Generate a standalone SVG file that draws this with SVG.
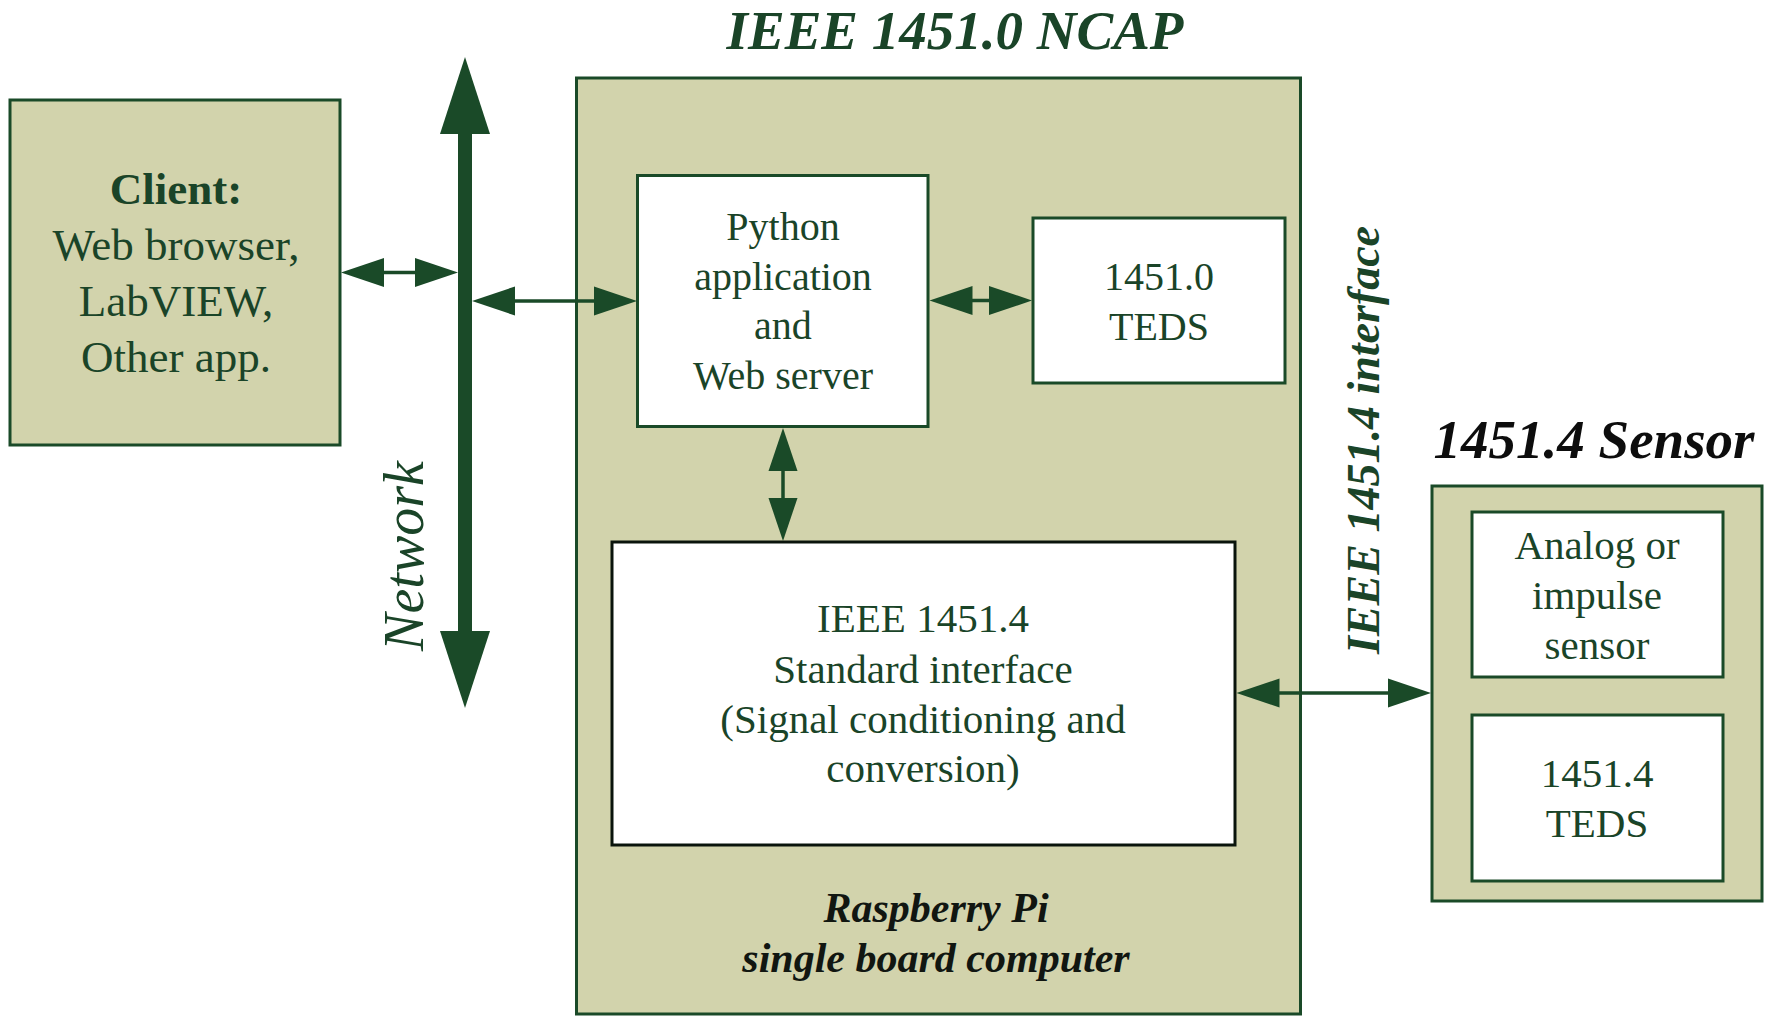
<svg xmlns="http://www.w3.org/2000/svg" xmlns:xlink="http://www.w3.org/1999/xlink" width="1772" height="1016" viewBox="0 0 1772 1016">
<style>
  .beige { fill: #d2d3ac; stroke: #1a4a28; stroke-width: 3; }
  .white { fill: #ffffff; stroke: #1a4a28; stroke-width: 3; }
  .whiteb { fill: #ffffff; stroke: #0a140c; stroke-width: 3; }
  .t { font-family: "Liberation Serif", "Times New Roman", serif; fill: #1a4428; text-anchor: middle; }
  .dark { fill: #111611; }
  .r40 { font-size: 40px; }
  .r42 { font-size: 41px; }
  .r45 { font-size: 45px; }
  .title { font-family: "Liberation Serif", "Times New Roman", serif; font-weight: bold; font-style: italic; font-size: 55px; text-anchor: middle; }
  .line { stroke: #1a4a28; stroke-width: 3.5; fill: none; }
  .head { fill: #1a4a28; }
</style>
<defs>
  <path id="ah" class="head" d="M0,0 L-43,-14.5 L-43,14.5 Z"/>
  <path id="bh" class="head" d="M0,0 L-77,-25 L-77,25 Z"/>
</defs>

<g id="title-ncap">
  <text class="title" x="955" y="49" font-size="54" fill="#1a4428">IEEE 1451.0 NCAP</text>
</g>

<g id="client">
  <rect class="beige" x="10" y="100" width="330" height="345"/>
  <text class="t r45" x="176" y="204" font-weight="bold">Client:</text>
  <text class="t r45" x="176" y="260">Web browser,</text>
  <text class="t r45" x="176" y="316">LabVIEW,</text>
  <text class="t r45" x="176" y="372">Other app.</text>
</g>

<g id="network-label">
  <text class="t" x="0" y="0" font-style="italic" font-size="56" transform="translate(423,556) rotate(-90)">Network</text>
</g>

<g id="ncap">
  <rect class="beige" x="576.5" y="78" width="724" height="936"/>
  <text class="t dark" x="936" y="922" font-weight="bold" font-style="italic" font-size="42">Raspberry Pi</text>
  <text class="t dark" x="936" y="972" font-weight="bold" font-style="italic" font-size="42">single board computer</text>
</g>

<g id="python">
  <rect class="white" x="637.5" y="175.5" width="290.5" height="251"/>
  <text class="t r40" x="783" y="240">Python</text>
  <text class="t r40" x="783" y="290">application</text>
  <text class="t r40" x="783" y="339">and</text>
  <text class="t r40" x="783" y="389">Web server</text>
</g>

<g id="teds0">
  <rect class="white" x="1033" y="218" width="252" height="165"/>
  <text class="t r40" x="1159" y="290">1451.0</text>
  <text class="t r40" x="1159" y="340">TEDS</text>
</g>

<g id="ieee14514">
  <rect class="whiteb" x="612" y="542" width="623" height="303"/>
  <text class="t r42" x="923" y="632">IEEE 1451.4</text>
  <text class="t r42" x="923" y="683">Standard interface</text>
  <text class="t r42" x="923" y="733">(Signal conditioning and</text>
  <text class="t r42" x="923" y="782">conversion)</text>
</g>

<g id="interface-label">
  <text class="t" x="0" y="0" font-weight="bold" font-style="italic" font-size="46" transform="translate(1379,440) rotate(-90)">IEEE 1451.4 interface</text>
</g>

<g id="sensor">
  <text class="title" x="1594" y="458" fill="#0d0d0d">1451.4 Sensor</text>
  <rect class="beige" x="1432" y="486" width="330" height="415"/>
  <g id="analog">
    <rect class="white" x="1472" y="512" width="251" height="165"/>
    <text class="t r42" x="1597" y="559">Analog or</text>
    <text class="t r42" x="1597" y="609">impulse</text>
    <text class="t r42" x="1597" y="659">sensor</text>
  </g>
  <g id="teds4">
    <rect class="white" x="1472" y="715" width="251" height="166"/>
    <text class="t r42" x="1597" y="787">1451.4</text>
    <text class="t r42" x="1597" y="837">TEDS</text>
  </g>
</g>

<g id="connectors">
  <!-- network bus -->
  <line x1="465" y1="120" x2="465" y2="645" stroke="#1a4a28" stroke-width="14"/>
  <use href="#bh" transform="translate(465,57) rotate(-90)"/>
  <use href="#bh" transform="translate(465,708) rotate(90)"/>
  <!-- client <-> network -->
  <line class="line" x1="350" y1="272.5" x2="450" y2="272.5"/>
  <use href="#ah" transform="translate(341,272.5) rotate(180)"/>
  <use href="#ah" transform="translate(458,272.5)"/>
  <!-- network <-> python -->
  <line class="line" x1="480" y1="301" x2="628" y2="301"/>
  <use href="#ah" transform="translate(472,301) rotate(180)"/>
  <use href="#ah" transform="translate(637,301)"/>
  <!-- python <-> teds -->
  <line class="line" x1="938" y1="300.5" x2="1023" y2="300.5"/>
  <use href="#ah" transform="translate(929.5,300.5) rotate(180)"/>
  <use href="#ah" transform="translate(1032,300.5)"/>
  <!-- python <-> ieee 1451.4 -->
  <line class="line" x1="783" y1="436" x2="783" y2="532"/>
  <use href="#ah" transform="translate(783,428) rotate(-90)"/>
  <use href="#ah" transform="translate(783,541) rotate(90)"/>
  <!-- ieee 1451.4 <-> sensor -->
  <line class="line" x1="1245" y1="693" x2="1422" y2="693"/>
  <use href="#ah" transform="translate(1236.5,693) rotate(180)"/>
  <use href="#ah" transform="translate(1431,693)"/>
</g>
</svg>
